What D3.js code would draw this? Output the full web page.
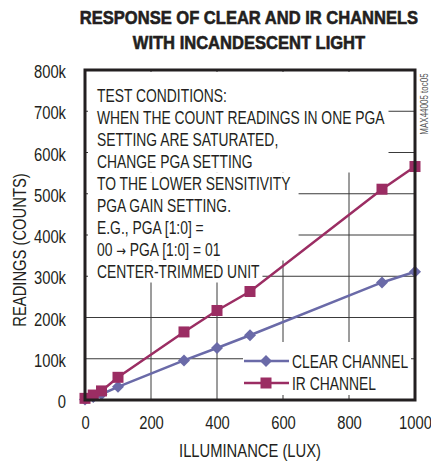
<!DOCTYPE html>
<meta charset='utf-8'>
<style>
  body { margin:0; background:#fff; }
  svg text { font-family:'Liberation Sans',Arial,sans-serif; fill:#231f20; }
  .grid line { stroke:#3a3a3a; stroke-width:1px; }
  .title { font-weight:bold; font-size:19px; stroke:#231f20; stroke-width:0.6px; }
</style>
<body>
<script src='https://cdn.jsdelivr.net/npm/d3@7/dist/d3.min.js'></script>
<script>

  // illuminance (lux) and readings (thousands of counts)
  var lux   = [0, 25, 50, 100, 300, 400, 500, 900, 1000];
  var clear = [1, 7, 14, 32, 96, 126, 157, 285, 311];
  var ir    = [4, 12, 22, 55, 165, 217, 263, 511, 566];

  var xTicks = [0, 200, 400, 600, 800, 1000];
  var yTicks = [0, 100, 200, 300, 400, 500, 600, 700, 800];

  var titleLines = ['RESPONSE OF CLEAR AND IR CHANNELS', 'WITH INCANDESCENT LIGHT'];
  var noteLines = [
    'TEST CONDITIONS:',
    'WHEN THE COUNT READINGS IN ONE PGA',
    'SETTING ARE SATURATED,',
    'CHANGE PGA SETTING',
    'TO THE LOWER SENSITIVITY',
    'PGA GAIN SETTING.',
    'E.G., PGA [1:0] =',
    '00 \u2192 PGA [1:0] = 01',
    'CENTER-TRIMMED UNIT'
  ];
  var legendNames = ['CLEAR CHANNEL', 'IR CHANNEL'];

  var clearColor = '#6a6aa8';
  var irColor = '#9b2d63';

  var width = 431, height = 464;
  var m = {left:85, right:16, top:70, bottom:64};

  // no narrow font installed: squeeze Liberation Sans like Arial Narrow
  function narrow(sel, f) {
    sel.each(function() {
      var w = this.getComputedTextLength();
      d3.select(this).attr('textLength', w * f).attr('lengthAdjust', 'spacingAndGlyphs');
    });
  }

  var svg = d3.select('body').append('svg')
    .attr('width', width)
    .attr('height', height);

  var x = d3.scaleLinear().domain([0, 1000]).range([m.left, width - m.right]);
  var y = d3.scaleLinear().domain([0, 800]).range([height - m.bottom, m.top]);

  // title
  svg.selectAll('.title').data(titleLines).enter().append('text')
    .attr('class', 'title')
    .attr('x', 249)
    .attr('y', (d, i) => 24 + i * 25)
    .attr('text-anchor', 'middle')
    .text(d => d)
    .call(narrow, 0.87);

  // grid
  var grid = svg.append('g').attr('class', 'grid');
  grid.selectAll('.h').data(yTicks.slice(1, -1)).enter().append('line')
    .attr('x1', x(0)).attr('x2', x(1000))
    .attr('y1', d => y(d)).attr('y2', d => y(d));
  grid.selectAll('.v').data(xTicks.slice(1, -1)).enter().append('line')
    .attr('y1', y(0)).attr('y2', y(800))
    .attr('x1', d => x(d)).attr('x2', d => x(d));

  // note text with white backing that hides the grid
  var noteBg = svg.append('g');
  var note = svg.append('g');
  var nx = x(0) + 12;
  var lineY = i => 101.5 + i * 22;
  note.selectAll('text').data(noteLines).enter().append('text')
    .attr('x', nx)
    .attr('y', (d, i) => lineY(i))
    .attr('font-size', '18px')
    .each(function(d) {
      var parts = d.split('\u2192');
      var t = d3.select(this);
      parts.forEach((p, k) => {
        if (k > 0) t.append('tspan').attr('font-family', 'DejaVu Sans').attr('font-size', '15px').text('\u2192');
        t.append('tspan').text(p);
      });
    })
    .call(narrow, 0.77);
  var ends = [];
  note.selectAll('text').each(function() { var b = this.getBBox(); ends.push(b.x + b.width); });
  var blocks = [
    {from:0, to:3, right:d3.max(ends.slice(0, 4)) + 4, top:y(800) + 2},
    {from:4, to:7, right:ends[4] + 8},
    {from:8, to:8, right:ends[8] + 3}
  ];
  blocks.forEach(b => {
    var top = b.top != null ? b.top : lineY(b.from) - 17;
    noteBg.append('rect')
      .attr('x', x(0) + 3)
      .attr('y', top)
      .attr('width', b.right - x(0) - 3)
      .attr('height', lineY(b.to) + 5 - top)
      .attr('fill', '#fff');
  });

  // legend backing
  var lg = svg.append('g');
  lg.append('rect')
    .attr('x', 243).attr('y', 342)
    .attr('width', x(1000) - 247).attr('height', 53)
    .attr('fill', '#fff');

  // series
  var line = d3.line().x(d => x(d[0])).y(d => y(d[1]));
  var clearPts = lux.map((d, i) => [d, clear[i]]);
  var irPts = lux.map((d, i) => [d, ir[i]]);

  svg.append('path').datum(clearPts)
    .attr('d', line).attr('fill', 'none')
    .attr('stroke', clearColor).attr('stroke-width', 2.5);
  svg.append('path').datum(irPts)
    .attr('d', line).attr('fill', 'none')
    .attr('stroke', irColor).attr('stroke-width', 2.5);

  svg.selectAll('.cm').data(clearPts).enter().append('path')
    .attr('d', d3.symbol().type(d3.symbolSquare).size(72))
    .attr('transform', d => 'translate(' + x(d[0]) + ',' + y(d[1]) + ') rotate(45)')
    .attr('fill', clearColor);
  svg.selectAll('.im').data(irPts).enter().append('rect')
    .attr('x', d => x(d[0]) - 5.5).attr('y', d => y(d[1]) - 5.5)
    .attr('width', 11).attr('height', 11)
    .attr('fill', irColor);

  // legend entries
  var lgY = [361, 383];
  [clearColor, irColor].forEach((c, i) => {
    lg.append('line')
      .attr('x1', 244).attr('x2', 289)
      .attr('y1', lgY[i]).attr('y2', lgY[i])
      .attr('stroke', c).attr('stroke-width', 2.5);
    lg.append('text')
      .attr('x', 292).attr('y', lgY[i] + 6.5)
      .attr('font-size', '18px')
      .text(legendNames[i])
      .call(narrow, 0.77);
  });
  lg.append('path')
    .attr('d', d3.symbol().type(d3.symbolSquare).size(72))
    .attr('transform', 'translate(266,' + lgY[0] + ') rotate(45)')
    .attr('fill', clearColor);
  lg.append('rect')
    .attr('x', 266 - 5.5).attr('y', lgY[1] - 5.5)
    .attr('width', 11).attr('height', 11)
    .attr('fill', irColor);

  // frame
  svg.append('rect')
    .attr('x', x(0)).attr('y', y(800))
    .attr('width', x(1000) - x(0)).attr('height', y(0) - y(800))
    .attr('fill', 'none').attr('stroke', '#231f20').attr('stroke-width', 3);

  // axes (labels only)
  var xAxis = svg.append('g')
    .attr('transform', 'translate(0,' + (y(0) + 16) + ')')
    .call(d3.axisBottom(x).tickValues(xTicks).tickSize(0).tickFormat(d3.format('d')));
  var yAxis = svg.append('g')
    .attr('transform', 'translate(' + (x(0) - 16) + ',0)')
    .call(d3.axisLeft(y).tickValues(yTicks).tickSize(0).tickFormat(d => d ? d + 'k' : '0'));
  [xAxis, yAxis].forEach(a => {
    a.select('.domain').remove();
    a.selectAll('text').attr('font-size', '18px').attr('font-family', null).attr('fill', '#231f20')
      .call(narrow, 0.82);
  });
  yAxis.selectAll('text').attr('dy', '0.42em');
  xAxis.selectAll('text').attr('dy', '0.55em');

  svg.append('text')
    .attr('x', 250).attr('y', 457)
    .attr('text-anchor', 'middle')
    .attr('font-size', '18px')
    .text('ILLUMINANCE (LUX)')
    .call(narrow, 0.82);
  svg.append('text')
    .attr('transform', 'translate(26,250) rotate(-90)')
    .attr('text-anchor', 'middle')
    .attr('font-size', '18px')
    .text('READINGS (COUNTS)')
    .call(narrow, 0.82);

  svg.append('text')
    .attr('transform', 'translate(428,104) rotate(-90)')
    .attr('text-anchor', 'middle')
    .attr('font-size', '10px')
    .style('fill', '#555')
    .text('MAX44005 toc05')
    .call(narrow, 0.8);

</script>
</body>
